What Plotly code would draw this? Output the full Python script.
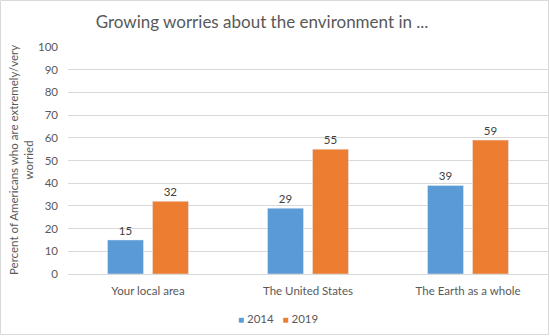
import plotly.graph_objects as go

categories = ["Your local area", "The United States", "The Earth as a whole"]
vals_2014 = [15, 29, 39]
vals_2019 = [32, 55, 59]
series_names = ["2014", "2019"]
colors = ["#5B9BD5", "#ED7D31"]

W, H = 550, 336
ml, mr, mt, mb = 68, 2, 47, 62
pw, ph = W - ml - mr, H - mt - mb

fig = go.Figure()
for name, vals, col in zip(series_names, [vals_2014, vals_2019], colors):
    fig.add_bar(x=categories, y=vals, name=name, marker_color=col,
                text=vals, textposition="outside", cliponaxis=False,
                textfont=dict(color="#404040", size=11.5), showlegend=False)

def px_to_paper_x(p):
    return (p - ml) / pw

def px_to_paper_y(p):
    return (H - mb - p) / ph

legend_text = "&nbsp;&nbsp;&nbsp;".join(
    f"<span style='color:{c};font-size:10px'>■</span> {n}" for n, c in zip(series_names, colors)
)

fig.update_layout(
    width=W, height=H,
    margin=dict(l=ml, r=mr, t=mt, b=mb),
    paper_bgcolor="white", plot_bgcolor="white",
    font=dict(family="Lato, Open Sans, sans-serif", color="#595959", size=11.5),
    title=dict(text="Growing worries about the environment in ...", x=262 / W, xanchor="center",
               y=1 - 22 / H, yanchor="middle", font=dict(size=17, color="#595959")),
    barmode="group", bargap=0.4375, bargroupgap=0.2,
    xaxis=dict(showline=True, linecolor="#D9D9D9", ticks="", ticklabelstandoff=6,
               tickfont=dict(size=11.5, color="#595959")),
    yaxis=dict(range=[0, 100], dtick=10, showgrid=True, gridcolor="#D9D9D9", zeroline=False,
               showline=False, ticks="", ticklabelstandoff=9, tickfont=dict(size=11.5, color="#595959")),
    annotations=[
        dict(text="Percent of Americans who are extremely/very<br>worried", xref="paper", yref="paper",
             x=px_to_paper_x(21), y=px_to_paper_y(160), textangle=-90, showarrow=False,
             xanchor="center", yanchor="middle", font=dict(size=11.5, color="#595959")),
        dict(text=legend_text, xref="paper", yref="paper", x=px_to_paper_x(278), y=px_to_paper_y(318),
             showarrow=False, xanchor="center", yanchor="middle", font=dict(size=11.5, color="#595959")),
    ],
    shapes=[dict(type="rect", xref="paper", yref="paper",
                 x0=px_to_paper_x(0.5), x1=px_to_paper_x(548.5),
                 y0=px_to_paper_y(0.5), y1=px_to_paper_y(334.5),
                 line=dict(color="#D9D9D9", width=1), layer="below")],
)

fig.write_html("out.html")
